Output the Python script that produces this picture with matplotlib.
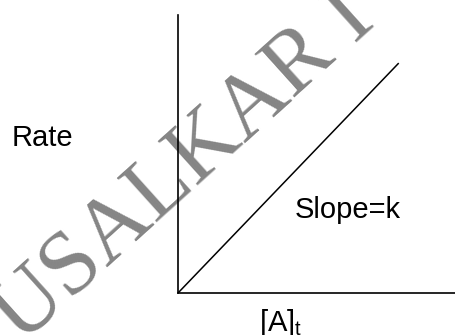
import matplotlib
matplotlib.use('Agg')
import matplotlib.pyplot as plt

# first-order rate law: rate = k [A]t, straight line through origin
conc = [0.0, 0.794]
rate = [0.0, 0.827]
y_label = 'Rate'
x_label = '[A]$_{\\mathregular{t}}$'
slope_label = 'Slope=k'
watermark = 'PUSALKAR I'

W, H = 456, 335
fig = plt.figure(figsize=(W / 100, H / 100), dpi=100)
fig.patch.set_facecolor('white')


def px(x, y):
    # pixel position (from top-left) -> figure fraction
    return x / W, 1 - y / H


ax = fig.add_axes([178 / W, (H - 293) / H, (W - 178) / W, (293 - 15) / H])
ax.patch.set_visible(False)
ax.plot(conc, rate, color='black', lw=1.1, solid_capstyle='butt')
ax.set_xlim(0, 1)
ax.set_ylim(0, 1)
for s in ['top', 'right']:
    ax.spines[s].set_visible(False)
for s in ['left', 'bottom']:
    ax.spines[s].set_linewidth(1.2)
    ax.spines[s].set_color('black')
ax.set_xticks([])
ax.set_yticks([])

sans = 'Liberation Sans'
fig.text(*px(12, 146), y_label, fontsize=21, family=sans, va='baseline', ha='left')
fig.text(*px(295, 218), slope_label, fontsize=21, family=sans, va='baseline', ha='left')
fig.text(*px(259, 331), x_label, fontsize=21, family=sans, va='baseline', ha='left')

# watermark behind the axes
fig.text(*px(-16, 378), watermark, fontsize=65, family='Liberation Serif',
         color='#858585', rotation=42, rotation_mode='anchor',
         ha='left', va='baseline', zorder=-1)

plt.savefig('out.png', dpi=100)
